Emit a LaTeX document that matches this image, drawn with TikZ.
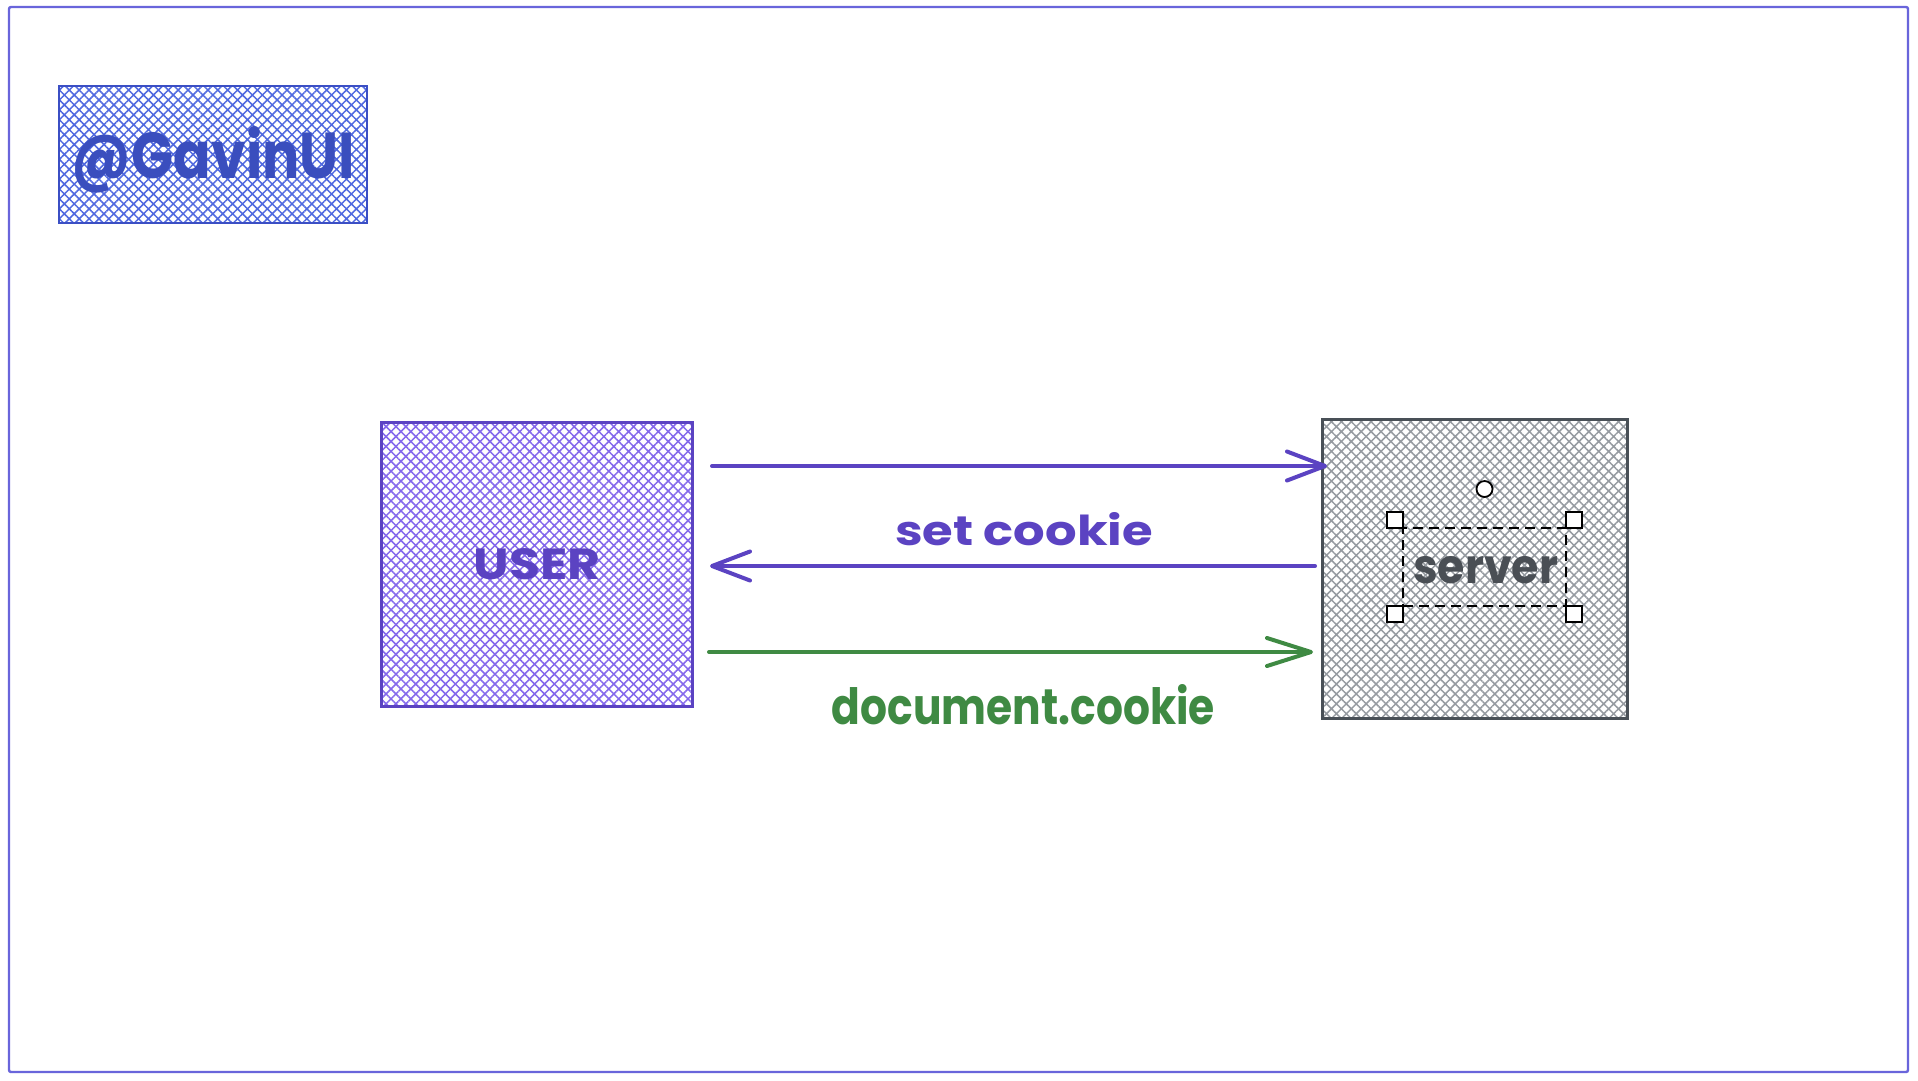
\documentclass[tikz,border=0pt]{standalone}
\usepackage{fontspec}
\usepackage{graphicx}
\setmainfont{Poppins}
\usetikzlibrary{patterns.meta,arrows.meta}
\definecolor{frameC}{HTML}{6965DB}
\definecolor{blueS}{HTML}{3B4FC4}
\definecolor{blueH}{HTML}{5069E0}
\definecolor{blueT}{HTML}{3A4EBE}
\definecolor{violS}{HTML}{5B43C2}
\definecolor{violH}{HTML}{8468EC}
\definecolor{grayS}{HTML}{495057}
\definecolor{grayH}{HTML}{969BA1}
\definecolor{grayT}{HTML}{4A4F55}
\definecolor{greenC}{HTML}{3F8A43}
\begin{document}
\begin{tikzpicture}[x=1pt,y=-1pt,
  sketchbox/.style={draw, line width=2.2pt, inner sep=0pt, outer sep=0pt},
  gavinbox/.style={sketchbox, draw=blueS, pattern={Hatch[angle=45,distance=7pt,line width=1.5pt]}, pattern color=blueH, minimum width=308pt, minimum height=137pt},
  userbox/.style={sketchbox, draw=violS, pattern={Hatch[angle=45,distance=7pt,line width=1.5pt]}, pattern color=violH, text=violS, minimum width=311pt, minimum height=284pt},
  serverbox/.style={sketchbox, draw=grayS, pattern={Hatch[angle=45,distance=7pt,line width=1.5pt]}, pattern color=grayH, minimum width=305pt, minimum height=299pt},
  varrow/.style={draw=violS, line width=4pt, line cap=round, -{Straight Barb[length=38pt,width=29pt,round]}},
  garrow/.style={draw=greenC, line width=4pt, line cap=round, -{Straight Barb[length=44pt,width=28pt,round]}},
  handle/.style={draw=black, fill=white, line width=1.8pt, minimum size=16pt, inner sep=0pt},
  selbox/.style={draw=black, line width=1.8pt, dash pattern=on 10pt off 6pt, minimum width=163pt, minimum height=78pt, inner sep=0pt},
  lbl/.style={inner sep=0pt, font=\bfseries}
]
\fill[white] (0,0) rectangle (1918,1080);
\useasboundingbox (0,0) rectangle (1918,1080);

% outer frame
\node[draw=frameC, line width=2.4pt, rounded corners=2pt, minimum width=1899pt, minimum height=1065pt, inner sep=0pt] (frame) at (958.5,539.5) {};

% boxes
\node[gavinbox] (gavin) at (213,154.5) {};
\node[lbl, text=blueT] (gavintxt) at (213.5,160) {\resizebox{283pt}{52pt}{@GavinUI}};
\node[userbox, font=\bfseries] (user) at (537,564.5) {\resizebox{127pt}{31pt}{USER}};
\node[serverbox] (server) at (1475,569) {};

% server text with selection overlay
\node[lbl, text=grayT] (srvtxt) at (1485.5,570.5) {\resizebox{145pt}{27pt}{server}};
\node[selbox] (sel) at (1484.5,567) {};
\node[handle] (hnw) at ([shift={(-7pt,7pt)}]sel.north west) {};
\node[handle] (hne) at ([shift={(7pt,7pt)}]sel.north east) {};
\node[handle] (hsw) at ([shift={(-7pt,-7pt)}]sel.south west) {};
\node[handle] (hse) at ([shift={(7pt,-7pt)}]sel.south east) {};
\node[circle, draw=black, fill=white, line width=1.8pt, minimum size=16pt, inner sep=0pt] (rot) at (1484.5,489) {};

% arrow end points
\coordinate (a1s) at (712,466);
\coordinate (a1e) at (1327,466);
\coordinate (a2s) at (1315,566);
\coordinate (a2e) at (710,566);
\coordinate (a3s) at (709,652);
\coordinate (a3e) at (1313,652);

\draw[varrow] (a1s) -- (a1e);
\draw[varrow] (a2s) -- (a2e);
\draw[garrow] (a3s) -- (a3e);

% labels
\node[lbl, text=violS] (setck) at (1024,529) {\resizebox{258pt}{33pt}{set cookie}};
\node[lbl, text=greenC] (docck) at (1023.5,705) {\resizebox{383pt}{40pt}{document.cookie}};
\end{tikzpicture}
\end{document}
